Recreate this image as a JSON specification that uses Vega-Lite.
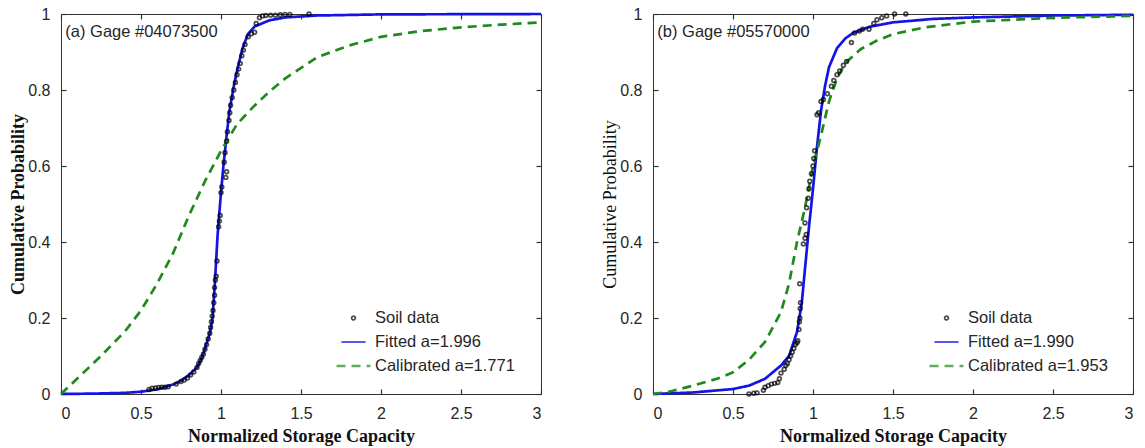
{
  "$schema": "https://vega.github.io/schema/vega-lite/v6.json",
  "padding": {"left": 9, "top": 5, "right": 5, "bottom": 0},
  "background": "white",
  "spacing": 54,
  "datasets": {
    "a": [
      {"series": "Fitted a=1.996", "x": 0, "y": 0},
      {"series": "Fitted a=1.996", "x": 0.2, "y": 0.001},
      {"series": "Fitted a=1.996", "x": 0.4, "y": 0.003},
      {"series": "Fitted a=1.996", "x": 0.5, "y": 0.006},
      {"series": "Fitted a=1.996", "x": 0.6, "y": 0.012},
      {"series": "Fitted a=1.996", "x": 0.7, "y": 0.025},
      {"series": "Fitted a=1.996", "x": 0.75, "y": 0.035},
      {"series": "Fitted a=1.996", "x": 0.8, "y": 0.05},
      {"series": "Fitted a=1.996", "x": 0.85, "y": 0.07},
      {"series": "Fitted a=1.996", "x": 0.88, "y": 0.095},
      {"series": "Fitted a=1.996", "x": 0.9, "y": 0.12},
      {"series": "Fitted a=1.996", "x": 0.93, "y": 0.16},
      {"series": "Fitted a=1.996", "x": 0.947, "y": 0.2},
      {"series": "Fitted a=1.996", "x": 0.96, "y": 0.28},
      {"series": "Fitted a=1.996", "x": 0.979, "y": 0.42},
      {"series": "Fitted a=1.996", "x": 1.0, "y": 0.53},
      {"series": "Fitted a=1.996", "x": 1.015, "y": 0.6},
      {"series": "Fitted a=1.996", "x": 1.035, "y": 0.68},
      {"series": "Fitted a=1.996", "x": 1.053, "y": 0.745},
      {"series": "Fitted a=1.996", "x": 1.08, "y": 0.81},
      {"series": "Fitted a=1.996", "x": 1.105, "y": 0.86},
      {"series": "Fitted a=1.996", "x": 1.135, "y": 0.91},
      {"series": "Fitted a=1.996", "x": 1.168, "y": 0.947},
      {"series": "Fitted a=1.996", "x": 1.21, "y": 0.967},
      {"series": "Fitted a=1.996", "x": 1.3, "y": 0.983},
      {"series": "Fitted a=1.996", "x": 1.4, "y": 0.991},
      {"series": "Fitted a=1.996", "x": 1.6, "y": 0.996},
      {"series": "Fitted a=1.996", "x": 2.0, "y": 0.999},
      {"series": "Fitted a=1.996", "x": 3.0, "y": 1.0},
      {"series": "Calibrated a=1.771", "x": 0, "y": 0},
      {"series": "Calibrated a=1.771", "x": 0.1, "y": 0.04},
      {"series": "Calibrated a=1.771", "x": 0.25, "y": 0.1},
      {"series": "Calibrated a=1.771", "x": 0.4, "y": 0.165},
      {"series": "Calibrated a=1.771", "x": 0.5, "y": 0.22},
      {"series": "Calibrated a=1.771", "x": 0.6, "y": 0.29},
      {"series": "Calibrated a=1.771", "x": 0.7, "y": 0.37},
      {"series": "Calibrated a=1.771", "x": 0.8, "y": 0.47},
      {"series": "Calibrated a=1.771", "x": 0.9, "y": 0.56},
      {"series": "Calibrated a=1.771", "x": 1.0, "y": 0.64},
      {"series": "Calibrated a=1.771", "x": 1.1, "y": 0.71},
      {"series": "Calibrated a=1.771", "x": 1.2, "y": 0.755},
      {"series": "Calibrated a=1.771", "x": 1.3, "y": 0.795},
      {"series": "Calibrated a=1.771", "x": 1.4, "y": 0.83},
      {"series": "Calibrated a=1.771", "x": 1.6, "y": 0.886},
      {"series": "Calibrated a=1.771", "x": 1.8, "y": 0.917},
      {"series": "Calibrated a=1.771", "x": 2.0, "y": 0.94},
      {"series": "Calibrated a=1.771", "x": 2.25, "y": 0.955},
      {"series": "Calibrated a=1.771", "x": 2.5, "y": 0.965},
      {"series": "Calibrated a=1.771", "x": 2.75, "y": 0.972},
      {"series": "Calibrated a=1.771", "x": 3.0, "y": 0.978},
      {"series": "Soil data", "x": 0.55, "y": 0.012},
      {"series": "Soil data", "x": 0.57, "y": 0.015},
      {"series": "Soil data", "x": 0.59, "y": 0.016},
      {"series": "Soil data", "x": 0.61, "y": 0.017},
      {"series": "Soil data", "x": 0.63, "y": 0.018},
      {"series": "Soil data", "x": 0.65, "y": 0.018},
      {"series": "Soil data", "x": 0.67, "y": 0.019},
      {"series": "Soil data", "x": 0.72, "y": 0.026},
      {"series": "Soil data", "x": 0.75, "y": 0.033},
      {"series": "Soil data", "x": 0.77, "y": 0.037},
      {"series": "Soil data", "x": 0.79, "y": 0.042},
      {"series": "Soil data", "x": 0.81, "y": 0.05},
      {"series": "Soil data", "x": 0.83, "y": 0.058},
      {"series": "Soil data", "x": 0.85, "y": 0.07},
      {"series": "Soil data", "x": 0.86, "y": 0.08},
      {"series": "Soil data", "x": 0.87, "y": 0.088},
      {"series": "Soil data", "x": 0.88, "y": 0.097},
      {"series": "Soil data", "x": 0.89, "y": 0.105},
      {"series": "Soil data", "x": 0.9, "y": 0.118},
      {"series": "Soil data", "x": 0.91, "y": 0.13},
      {"series": "Soil data", "x": 0.92, "y": 0.145},
      {"series": "Soil data", "x": 0.93, "y": 0.16},
      {"series": "Soil data", "x": 0.935, "y": 0.175},
      {"series": "Soil data", "x": 0.94, "y": 0.19},
      {"series": "Soil data", "x": 0.945, "y": 0.205},
      {"series": "Soil data", "x": 0.95, "y": 0.22},
      {"series": "Soil data", "x": 0.955, "y": 0.24},
      {"series": "Soil data", "x": 0.96, "y": 0.26},
      {"series": "Soil data", "x": 0.96, "y": 0.28},
      {"series": "Soil data", "x": 0.965, "y": 0.3},
      {"series": "Soil data", "x": 0.97, "y": 0.31},
      {"series": "Soil data", "x": 0.975, "y": 0.35},
      {"series": "Soil data", "x": 0.985, "y": 0.44},
      {"series": "Soil data", "x": 0.99, "y": 0.455},
      {"series": "Soil data", "x": 0.995, "y": 0.47},
      {"series": "Soil data", "x": 1.0, "y": 0.53},
      {"series": "Soil data", "x": 1.005, "y": 0.545},
      {"series": "Soil data", "x": 1.03, "y": 0.57},
      {"series": "Soil data", "x": 1.035, "y": 0.585},
      {"series": "Soil data", "x": 1.02, "y": 0.61},
      {"series": "Soil data", "x": 1.025, "y": 0.635},
      {"series": "Soil data", "x": 1.035, "y": 0.665},
      {"series": "Soil data", "x": 1.04, "y": 0.69},
      {"series": "Soil data", "x": 1.05, "y": 0.72},
      {"series": "Soil data", "x": 1.055, "y": 0.74},
      {"series": "Soil data", "x": 1.06, "y": 0.76},
      {"series": "Soil data", "x": 1.07, "y": 0.78},
      {"series": "Soil data", "x": 1.08, "y": 0.8},
      {"series": "Soil data", "x": 1.09, "y": 0.82},
      {"series": "Soil data", "x": 1.1, "y": 0.84},
      {"series": "Soil data", "x": 1.11, "y": 0.855},
      {"series": "Soil data", "x": 1.12, "y": 0.87},
      {"series": "Soil data", "x": 1.13, "y": 0.89},
      {"series": "Soil data", "x": 1.14, "y": 0.905},
      {"series": "Soil data", "x": 1.15, "y": 0.92},
      {"series": "Soil data", "x": 1.17, "y": 0.94},
      {"series": "Soil data", "x": 1.19, "y": 0.948},
      {"series": "Soil data", "x": 1.21, "y": 0.952},
      {"series": "Soil data", "x": 1.22, "y": 0.975},
      {"series": "Soil data", "x": 1.24, "y": 0.99},
      {"series": "Soil data", "x": 1.26, "y": 0.995},
      {"series": "Soil data", "x": 1.28, "y": 0.996},
      {"series": "Soil data", "x": 1.31, "y": 0.997},
      {"series": "Soil data", "x": 1.34, "y": 0.997},
      {"series": "Soil data", "x": 1.37, "y": 0.998},
      {"series": "Soil data", "x": 1.4, "y": 0.999},
      {"series": "Soil data", "x": 1.43, "y": 0.999},
      {"series": "Soil data", "x": 1.55, "y": 1.0}
    ],
    "b": [
      {"series": "Fitted a=1.990", "x": 0, "y": 0},
      {"series": "Fitted a=1.990", "x": 0.25, "y": 0.004},
      {"series": "Fitted a=1.990", "x": 0.5, "y": 0.013},
      {"series": "Fitted a=1.990", "x": 0.6, "y": 0.022},
      {"series": "Fitted a=1.990", "x": 0.7, "y": 0.04},
      {"series": "Fitted a=1.990", "x": 0.8, "y": 0.075},
      {"series": "Fitted a=1.990", "x": 0.85, "y": 0.1},
      {"series": "Fitted a=1.990", "x": 0.9, "y": 0.163},
      {"series": "Fitted a=1.990", "x": 0.93, "y": 0.24},
      {"series": "Fitted a=1.990", "x": 0.95, "y": 0.33},
      {"series": "Fitted a=1.990", "x": 0.975, "y": 0.44},
      {"series": "Fitted a=1.990", "x": 1.0, "y": 0.54},
      {"series": "Fitted a=1.990", "x": 1.025, "y": 0.65},
      {"series": "Fitted a=1.990", "x": 1.05, "y": 0.745},
      {"series": "Fitted a=1.990", "x": 1.075, "y": 0.81},
      {"series": "Fitted a=1.990", "x": 1.1, "y": 0.86},
      {"series": "Fitted a=1.990", "x": 1.15, "y": 0.91},
      {"series": "Fitted a=1.990", "x": 1.2, "y": 0.935},
      {"series": "Fitted a=1.990", "x": 1.25, "y": 0.95},
      {"series": "Fitted a=1.990", "x": 1.35, "y": 0.966},
      {"series": "Fitted a=1.990", "x": 1.5, "y": 0.978},
      {"series": "Fitted a=1.990", "x": 1.75, "y": 0.987},
      {"series": "Fitted a=1.990", "x": 2.0, "y": 0.991},
      {"series": "Fitted a=1.990", "x": 2.5, "y": 0.996},
      {"series": "Fitted a=1.990", "x": 3.0, "y": 0.998},
      {"series": "Calibrated a=1.953", "x": 0, "y": 0},
      {"series": "Calibrated a=1.953", "x": 0.1, "y": 0.006},
      {"series": "Calibrated a=1.953", "x": 0.25, "y": 0.022},
      {"series": "Calibrated a=1.953", "x": 0.4, "y": 0.04},
      {"series": "Calibrated a=1.953", "x": 0.5, "y": 0.057},
      {"series": "Calibrated a=1.953", "x": 0.6, "y": 0.09},
      {"series": "Calibrated a=1.953", "x": 0.7, "y": 0.137},
      {"series": "Calibrated a=1.953", "x": 0.8, "y": 0.216},
      {"series": "Calibrated a=1.953", "x": 0.85, "y": 0.29},
      {"series": "Calibrated a=1.953", "x": 0.9, "y": 0.4},
      {"series": "Calibrated a=1.953", "x": 0.95, "y": 0.49},
      {"series": "Calibrated a=1.953", "x": 1.0, "y": 0.6},
      {"series": "Calibrated a=1.953", "x": 1.05, "y": 0.68},
      {"series": "Calibrated a=1.953", "x": 1.1, "y": 0.77},
      {"series": "Calibrated a=1.953", "x": 1.15, "y": 0.83},
      {"series": "Calibrated a=1.953", "x": 1.2, "y": 0.87},
      {"series": "Calibrated a=1.953", "x": 1.3, "y": 0.908},
      {"series": "Calibrated a=1.953", "x": 1.4, "y": 0.93},
      {"series": "Calibrated a=1.953", "x": 1.5, "y": 0.947},
      {"series": "Calibrated a=1.953", "x": 1.7, "y": 0.965},
      {"series": "Calibrated a=1.953", "x": 2.0, "y": 0.98},
      {"series": "Calibrated a=1.953", "x": 2.5, "y": 0.99},
      {"series": "Calibrated a=1.953", "x": 3.0, "y": 0.995},
      {"series": "Soil data", "x": 0.6, "y": 0.0},
      {"series": "Soil data", "x": 0.63, "y": 0.002},
      {"series": "Soil data", "x": 0.65, "y": 0.003},
      {"series": "Soil data", "x": 0.69, "y": 0.01},
      {"series": "Soil data", "x": 0.7, "y": 0.018},
      {"series": "Soil data", "x": 0.72, "y": 0.022},
      {"series": "Soil data", "x": 0.74, "y": 0.026},
      {"series": "Soil data", "x": 0.76, "y": 0.028},
      {"series": "Soil data", "x": 0.78, "y": 0.03},
      {"series": "Soil data", "x": 0.79, "y": 0.04},
      {"series": "Soil data", "x": 0.8, "y": 0.055},
      {"series": "Soil data", "x": 0.82, "y": 0.065},
      {"series": "Soil data", "x": 0.83, "y": 0.075},
      {"series": "Soil data", "x": 0.84, "y": 0.08},
      {"series": "Soil data", "x": 0.85, "y": 0.09},
      {"series": "Soil data", "x": 0.86, "y": 0.1},
      {"series": "Soil data", "x": 0.87, "y": 0.11},
      {"series": "Soil data", "x": 0.88, "y": 0.12},
      {"series": "Soil data", "x": 0.89, "y": 0.13},
      {"series": "Soil data", "x": 0.9, "y": 0.135},
      {"series": "Soil data", "x": 0.905, "y": 0.14},
      {"series": "Soil data", "x": 0.912, "y": 0.17},
      {"series": "Soil data", "x": 0.915, "y": 0.19},
      {"series": "Soil data", "x": 0.918, "y": 0.2},
      {"series": "Soil data", "x": 0.92, "y": 0.225},
      {"series": "Soil data", "x": 0.922, "y": 0.24},
      {"series": "Soil data", "x": 0.917, "y": 0.29},
      {"series": "Soil data", "x": 0.94, "y": 0.395},
      {"series": "Soil data", "x": 0.95, "y": 0.41},
      {"series": "Soil data", "x": 0.958, "y": 0.42},
      {"series": "Soil data", "x": 0.95, "y": 0.45},
      {"series": "Soil data", "x": 0.96, "y": 0.49},
      {"series": "Soil data", "x": 0.97, "y": 0.515},
      {"series": "Soil data", "x": 0.975, "y": 0.54},
      {"series": "Soil data", "x": 0.98, "y": 0.56},
      {"series": "Soil data", "x": 0.99, "y": 0.58},
      {"series": "Soil data", "x": 1.0, "y": 0.6},
      {"series": "Soil data", "x": 1.005, "y": 0.62},
      {"series": "Soil data", "x": 1.01, "y": 0.64},
      {"series": "Soil data", "x": 1.025, "y": 0.735},
      {"series": "Soil data", "x": 1.035, "y": 0.74},
      {"series": "Soil data", "x": 1.05, "y": 0.77},
      {"series": "Soil data", "x": 1.065, "y": 0.775},
      {"series": "Soil data", "x": 1.09, "y": 0.79},
      {"series": "Soil data", "x": 1.115, "y": 0.81},
      {"series": "Soil data", "x": 1.13, "y": 0.825},
      {"series": "Soil data", "x": 1.15, "y": 0.84},
      {"series": "Soil data", "x": 1.167, "y": 0.85},
      {"series": "Soil data", "x": 1.19, "y": 0.865},
      {"series": "Soil data", "x": 1.21, "y": 0.875},
      {"series": "Soil data", "x": 1.24, "y": 0.925},
      {"series": "Soil data", "x": 1.26, "y": 0.95},
      {"series": "Soil data", "x": 1.29, "y": 0.955},
      {"series": "Soil data", "x": 1.31, "y": 0.96},
      {"series": "Soil data", "x": 1.35, "y": 0.96},
      {"series": "Soil data", "x": 1.38, "y": 0.975},
      {"series": "Soil data", "x": 1.4, "y": 0.985},
      {"series": "Soil data", "x": 1.43, "y": 0.99},
      {"series": "Soil data", "x": 1.46, "y": 0.995},
      {"series": "Soil data", "x": 1.51, "y": 1.0},
      {"series": "Soil data", "x": 1.58, "y": 1.0}
    ],
    "labels": [{"label": "one"}]
  },
  "hconcat": [
    {
      "width": 480,
      "height": 380,
      "data": {"name": "a"},
      "resolve": {"axis": {"x": "independent", "y": "independent"}},
      "layer": [
        {
          "transform": [{"filter": "datum.series !== 'Soil data'"}],
          "mark": {"type": "line", "strokeWidth": 2.7},
          "encoding": {
            "x": {"field": "x", "type": "quantitative", "scale": {"domain": [0, 3], "nice": false},
                  "axis": {"orient": "top", "values": [0, 0.5, 1, 1.5, 2, 2.5, 3], "labels": false, "title": null}},
            "y": {"field": "y", "type": "quantitative", "scale": {"domain": [0, 1], "nice": false},
                  "axis": {"orient": "right", "values": [0, 0.2, 0.4, 0.6, 0.8, 1], "labels": false, "title": null}},
            "color": {"field": "series", "type": "nominal",
                      "scale": {"domain": ["Soil data", "Fitted a=1.996", "Calibrated a=1.771"], "range": ["#000000", "#1414e6", "#1e8a1e"]},
                      "legend": {"title": null, "orient": "none", "legendX": 274, "legendY": 293}},
            "strokeDash": {"field": "series", "type": "nominal",
                      "scale": {"domain": ["Soil data", "Fitted a=1.996", "Calibrated a=1.771"], "range": [[1, 0], [1, 0], [9, 6]]}}
          }
        },
        {
          "transform": [{"filter": "datum.series === 'Soil data'"}],
          "mark": {"type": "point", "filled": false},
          "encoding": {
            "x": {"field": "x", "type": "quantitative", "scale": {"domain": [0, 3], "nice": false},
                  "axis": {"values": [0, 0.5, 1, 1.5, 2, 2.5, 3], "format": "~g", "title": "Normalized Storage Capacity"}},
            "y": {"field": "y", "type": "quantitative", "scale": {"domain": [0, 1], "nice": false},
                  "axis": {"values": [0, 0.2, 0.4, 0.6, 0.8, 1], "format": "~g", "title": "Cumulative Probability"}},
            "color": {"field": "series", "type": "nominal",
                      "scale": {"domain": ["Soil data", "Fitted a=1.996", "Calibrated a=1.771"], "range": ["#000000", "#1414e6", "#1e8a1e"]}},
            "shape": {"field": "series", "type": "nominal",
                      "scale": {"domain": ["Soil data", "Fitted a=1.996", "Calibrated a=1.771"], "range": ["circle", "stroke", "stroke"]}},
            "size": {"field": "series", "type": "nominal",
                      "scale": {"domain": ["Soil data", "Fitted a=1.996", "Calibrated a=1.771"], "range": [14, 1150, 1150]}},
            "strokeWidth": {"field": "series", "type": "nominal",
                      "scale": {"domain": ["Soil data", "Fitted a=1.996", "Calibrated a=1.771"], "range": [1.7, 2.7, 2.7]}}
          }
        },
        {
          "data": {"name": "labels"},
          "mark": {"type": "text", "align": "left", "baseline": "middle", "font": "Liberation Sans", "fontSize": 16.5, "color": "#262626"},
          "encoding": {"x": {"datum": 0.027, "axis": null}, "y": {"datum": 0.952, "axis": null}, "text": {"value": "(a) Gage #04073500"}}
        }
      ]
    },
    {
      "width": 480,
      "height": 380,
      "data": {"name": "b"},
      "resolve": {"axis": {"x": "independent", "y": "independent"}},
      "layer": [
        {
          "transform": [{"filter": "datum.series !== 'Soil data'"}],
          "mark": {"type": "line", "strokeWidth": 2.7},
          "encoding": {
            "x": {"field": "x", "type": "quantitative", "scale": {"domain": [0, 3], "nice": false},
                  "axis": {"orient": "top", "values": [0, 0.5, 1, 1.5, 2, 2.5, 3], "labels": false, "title": null}},
            "y": {"field": "y", "type": "quantitative", "scale": {"domain": [0, 1], "nice": false},
                  "axis": {"orient": "right", "values": [0, 0.2, 0.4, 0.6, 0.8, 1], "labels": false, "title": null}},
            "color": {"field": "series", "type": "nominal",
                      "scale": {"domain": ["Soil data", "Fitted a=1.990", "Calibrated a=1.953"], "range": ["#000000", "#1414e6", "#1e8a1e"]},
                      "legend": {"title": null, "orient": "none", "legendX": 275, "legendY": 293}},
            "strokeDash": {"field": "series", "type": "nominal",
                      "scale": {"domain": ["Soil data", "Fitted a=1.990", "Calibrated a=1.953"], "range": [[1, 0], [1, 0], [9, 6]]}}
          }
        },
        {
          "transform": [{"filter": "datum.series === 'Soil data'"}],
          "mark": {"type": "point", "filled": false},
          "encoding": {
            "x": {"field": "x", "type": "quantitative", "scale": {"domain": [0, 3], "nice": false},
                  "axis": {"values": [0, 0.5, 1, 1.5, 2, 2.5, 3], "format": "~g", "title": "Normalized Storage Capacity"}},
            "y": {"field": "y", "type": "quantitative", "scale": {"domain": [0, 1], "nice": false},
                  "axis": {"values": [0, 0.2, 0.4, 0.6, 0.8, 1], "format": "~g", "title": "Cumulative Probability", "titleFontWeight": "normal"}},
            "color": {"field": "series", "type": "nominal",
                      "scale": {"domain": ["Soil data", "Fitted a=1.990", "Calibrated a=1.953"], "range": ["#000000", "#1414e6", "#1e8a1e"]}},
            "shape": {"field": "series", "type": "nominal",
                      "scale": {"domain": ["Soil data", "Fitted a=1.990", "Calibrated a=1.953"], "range": ["circle", "stroke", "stroke"]}},
            "size": {"field": "series", "type": "nominal",
                      "scale": {"domain": ["Soil data", "Fitted a=1.990", "Calibrated a=1.953"], "range": [14, 1150, 1150]}},
            "strokeWidth": {"field": "series", "type": "nominal",
                      "scale": {"domain": ["Soil data", "Fitted a=1.990", "Calibrated a=1.953"], "range": [1.7, 2.7, 2.7]}}
          }
        },
        {
          "data": {"name": "labels"},
          "mark": {"type": "text", "align": "left", "baseline": "middle", "font": "Liberation Sans", "fontSize": 16.5, "color": "#262626"},
          "encoding": {"x": {"datum": 0.027, "axis": null}, "y": {"datum": 0.952, "axis": null}, "text": {"value": "(b) Gage #05570000"}}
        }
      ]
    }
  ],
  "resolve": {"scale": {"color": "independent", "shape": "independent", "size": "independent", "strokeDash": "independent", "strokeWidth": "independent"}},
  "config": {
    "view": {"stroke": "#333333", "strokeWidth": 1},
    "axis": {
      "domain": false, "grid": false, "tickSize": -5, "tickColor": "#333333", "tickWidth": 1.2,
      "labelFont": "Liberation Sans", "labelFontSize": 16, "labelColor": "#262626", "labelPadding": 16,
      "titleFont": "Liberation Serif", "titleFontSize": 18, "titleFontWeight": "bold", "titleColor": "#111111"
    },
    "axisY": {"titlePadding": 0},
    "axisX": {"titlePadding": 6},
    "legend": {
      "labelFont": "Liberation Sans", "labelFontSize": 16.5, "labelColor": "#262626",
      "symbolStrokeWidth": 2.7, "rowPadding": 2, "clipHeight": 22, "labelOffset": 3, "padding": 0, "labelLimit": 300
    }
  }
}
